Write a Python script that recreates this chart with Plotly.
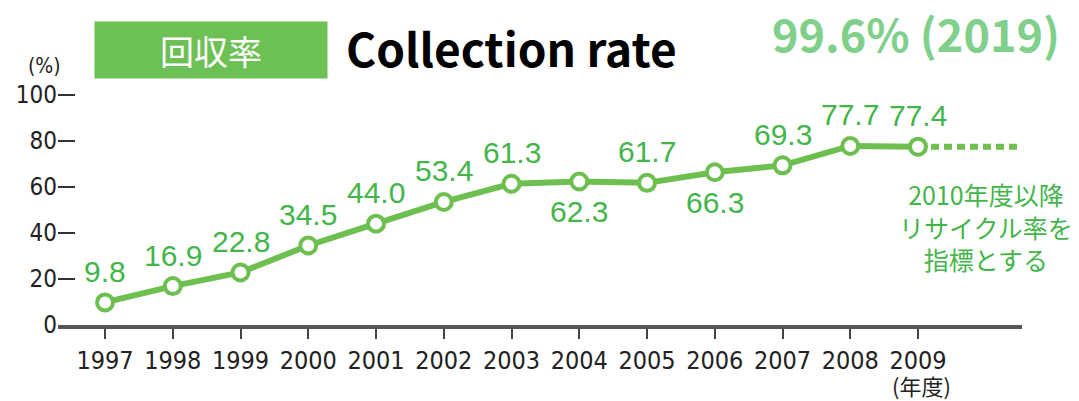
import plotly.graph_objects as go

# ---- data ----
years = [1997, 1998, 1999, 2000, 2001, 2002, 2003, 2004, 2005, 2006, 2007, 2008, 2009]
rates = [9.8, 16.9, 22.8, 34.5, 44.0, 53.4, 61.3, 62.3, 61.7, 66.3, 69.3, 77.7, 77.4]
label_side = ["above", "above", "above", "above", "above", "above", "above",
              "below", "above", "below", "above", "above", "above"]
y_ticks = [0, 20, 40, 60, 80, 100]
title_jp = "回収率"
title_en = "Collection rate"
headline = "99.6% (2019)"
note_text = "2010年度以降<br>リサイクル率を<br>指標とする"
x_unit = "(年度)"
y_unit = "(%)"

# ---- styles ----
W, H = 1079, 401
ML, MR, MT, MB = 58, 57, 90, 76
LINE_GREEN = "#6dbf4f"
LABEL_GREEN = "#43b54a"
BOX_GREEN = "#6cc054"
HEAD_GREEN = "#80d08c"
TICK_FONT = "DejaVu Sans Condensed, Liberation Sans Narrow, sans-serif"
LABEL_FONT = "Liberation Sans, Arial, sans-serif"
JP_FONT = "Noto Sans CJK JP, sans-serif"

x_range = [years[0] - 0.694, years[-1] + 1.535]
y_range = [0, y_ticks[-1] + 2]

plot_w = W - ML - MR
plot_h = H - MT - MB


def px_to_paper(px, py):
    return (px - ML) / plot_w, (H - MB - py) / plot_h


fig = go.Figure()

# continuation dashed line after the last year
fig.add_trace(go.Scatter(
    x=[years[-1], x_range[1]], y=[rates[-1], rates[-1]],
    mode="lines", line=dict(color=LINE_GREEN, width=6, dash="8px,5px"),
    hoverinfo="skip", showlegend=False, cliponaxis=False))

fig.add_trace(go.Scatter(
    x=years, y=rates, mode="lines+markers",
    line=dict(color=LINE_GREEN, width=6),
    marker=dict(symbol="circle", size=16, color="white",
                line=dict(color=LINE_GREEN, width=4)),
    showlegend=False, cliponaxis=False))

annotations = []
for xv, yv, side in zip(years, rates, label_side):
    annotations.append(dict(
        x=xv, y=yv, xref="x", yref="y", text=f"{yv:.1f}", showarrow=False,
        yshift=31 if side == "above" else -30, xanchor="center", yanchor="middle",
        font=dict(family=LABEL_FONT, size=30, color=LABEL_GREEN)))

bx, by = px_to_paper(211, 50)
annotations.append(dict(
    x=bx, y=by, xref="paper", yref="paper", text=title_jp, showarrow=False,
    xanchor="center", yanchor="middle", width=230, height=54,
    bgcolor=BOX_GREEN, font=dict(family=JP_FONT, size=34, color="white")))

tx, ty = px_to_paper(344, 47)
annotations.append(dict(
    x=tx, y=ty, xref="paper", yref="paper", text=f"<b>{title_en}</b>", showarrow=False,
    xanchor="left", yanchor="middle",
    font=dict(family=JP_FONT, size=46, color="black")))

hx, hy = px_to_paper(770, 32)
annotations.append(dict(
    x=hx, y=hy, xref="paper", yref="paper", text=f"<b>{headline}</b>", showarrow=False,
    xanchor="left", yanchor="middle",
    font=dict(family=JP_FONT, size=45, color=HEAD_GREEN)))

nx, ny = px_to_paper(986, 226)
annotations.append(dict(
    x=nx, y=ny, xref="paper", yref="paper", text=note_text, showarrow=False,
    xanchor="center", yanchor="middle", align="center",
    font=dict(family=JP_FONT, size=25, color=LABEL_GREEN)))

ux, uy = px_to_paper(921, 385)
annotations.append(dict(
    x=ux, y=uy, xref="paper", yref="paper", text=x_unit, showarrow=False,
    xanchor="center", yanchor="middle",
    font=dict(family=JP_FONT, size=22, color="#222")))

px_, py_ = px_to_paper(44, 66)
annotations.append(dict(
    x=px_, y=py_, xref="paper", yref="paper", text=y_unit, showarrow=False,
    xanchor="center", yanchor="middle",
    font=dict(family=TICK_FONT, size=21, color="#222")))

fig.update_layout(
    width=W, height=H, margin=dict(l=ML, r=MR, t=MT, b=MB, autoexpand=False),
    paper_bgcolor="white", plot_bgcolor="white",
    annotations=annotations,
    xaxis=dict(range=x_range, tickvals=years, ticktext=[str(y) for y in years],
               ticks="outside", ticklen=10, tickwidth=2, tickcolor="#444",
               showline=True, linewidth=4, linecolor="#555", tickangle=0,
               showgrid=False, zeroline=False, fixedrange=True, automargin=False,
               tickfont=dict(family=TICK_FONT, size=25, color="#222")),
    yaxis=dict(range=y_range, tickvals=y_ticks, ticktext=[str(v) for v in y_ticks],
               ticks="inside", ticklen=17, tickwidth=2, tickcolor="#333",
               showline=False, showgrid=False, zeroline=False, fixedrange=True,
               automargin=False,
               tickfont=dict(family=TICK_FONT, size=24, color="#222")),
)

fig.write_html("out.html")
